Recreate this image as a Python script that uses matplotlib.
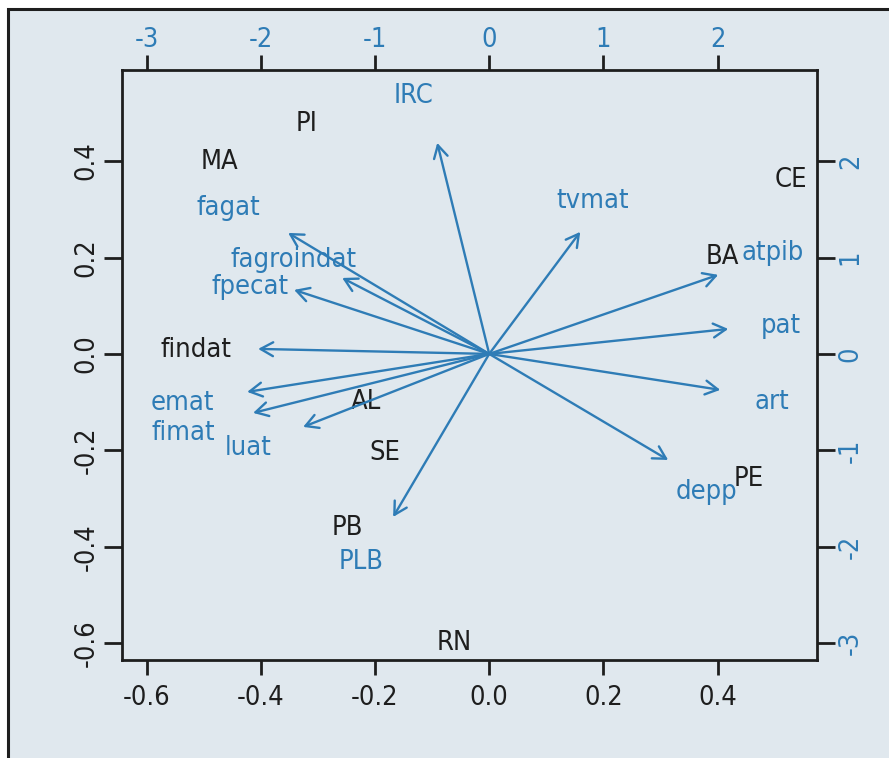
import matplotlib
matplotlib.use("Agg")
import matplotlib.pyplot as plt
from matplotlib.patches import Rectangle

plt.rcParams['font.family'] = ['DejaVu Sans']
plt.rcParams['font.stretch'] = 'condensed'

# Observation scores (first two components)
obs_names = ["PI", "MA", "CE", "BA", "AL", "SE", "PE", "PB", "RN"]
obs_x = [-0.320, -0.473, 0.529, 0.408, -0.215, -0.182, 0.454, -0.249, -0.061]
obs_y = [0.477, 0.398, 0.361, 0.201, -0.100, -0.205, -0.259, -0.361, -0.600]

# Variable loadings (arrow tips) on the secondary scale
var_names = ["IRC", "tvmat", "atpib", "pat", "art", "depp", "PLB", "luat",
             "fimat", "emat", "findat", "fpecat", "fagroindat", "fagat"]
var_x = [-0.455, 0.797, 2.005, 2.093, 2.023, 1.567, -0.841, -1.629,
         -2.067, -2.119, -2.023, -1.708, -1.287, -1.760]
var_y = [2.189, 1.266, 0.820, 0.259, -0.373, -1.100, -1.691, -0.757,
         -0.612, -0.394, 0.052, 0.664, 0.788, 1.255]

# Where each variable name is written
lab_x = [-0.666, 0.902, 2.478, 2.557, 2.478, 1.900, -1.121, -2.110,
         -2.680, -2.688, -2.566, -2.093, -1.716, -2.285]
lab_y = [2.676, 1.587, 1.048, 0.290, -0.498, -1.432, -2.158, -0.975,
         -0.820, -0.508, 0.041, 0.695, 0.975, 1.515]
black_vars = ["findat"]

bottom_ticks = [-0.6, -0.4, -0.2, 0.0, 0.2, 0.4]
left_ticks = [-0.6, -0.4, -0.2, 0.0, 0.2, 0.4]
top_ticks = [-3, -2, -1, 0, 1, 2]
right_ticks = [-3, -2, -1, 0, 1, 2]

blue = "#2e7cb6"
dark = "#1e1e1e"
bg = "#e0e8ee"
fs = 19.5

fig = plt.figure(figsize=(8.89, 7.58), dpi=100)
fig.patch.set_facecolor("white")
fig.patches.append(Rectangle((8 / 889, -0.05), 1.1, 1 - 9 / 758 + 0.05,
                             transform=fig.transFigure, facecolor=bg,
                             edgecolor=dark, linewidth=2.2, zorder=-10))

pos = [122 / 889, 1 - 660 / 758, 695 / 889, 590 / 758]
ax = fig.add_axes(pos)
ax.set_facecolor("none")
xlim = (-0.643, 0.574)
ylim = (-0.635, 0.589)
ax.set_xlim(xlim)
ax.set_ylim(ylim)

for n, x, y in zip(obs_names, obs_x, obs_y):
    ax.text(x, y, n, color=dark, fontsize=fs, ha="center", va="center")

ax.set_xticks(bottom_ticks)
ax.set_xticklabels([f"{t:.1f}" for t in bottom_ticks])
ax.set_yticks(left_ticks)
ax.set_yticklabels([f"{t:.1f}" for t in left_ticks], rotation=90, va="center")
ax.tick_params(axis="x", length=11, width=2, color=dark, labelsize=fs,
               labelcolor=dark, pad=7)
ax.tick_params(axis="y", length=13, width=2, color=dark, labelsize=fs,
               labelcolor=dark, pad=3)
for s in ax.spines.values():
    s.set_linewidth(2)
    s.set_color(dark)

# Secondary axes for the loadings
ax2 = fig.add_axes(pos, frameon=False)
ax2.set_facecolor("none")
ax2.set_xlim(xlim[0] * 5, xlim[1] * 5)
ax2.set_ylim(ylim[0] * 5, ylim[1] * 5)
ax2.xaxis.tick_top()
ax2.yaxis.tick_right()
ax2.set_xticks(top_ticks)
ax2.set_xticklabels([str(t) for t in top_ticks])
ax2.set_yticks(right_ticks)
ax2.set_yticklabels([str(t) for t in right_ticks], rotation=90, va="center")
ax2.tick_params(axis="x", length=11, width=2, color=dark, labelsize=fs,
                labelcolor=blue, pad=1)
ax2.tick_params(axis="y", length=13, width=2, color=dark, labelsize=fs,
                labelcolor=blue, pad=2)

for n, x, y, tx, ty in zip(var_names, var_x, var_y, lab_x, lab_y):
    ax2.annotate("", xy=(x, y), xytext=(0, 0),
                 arrowprops=dict(arrowstyle="->,head_length=0.9,head_width=0.5",
                                 lw=1.7, color=blue, shrinkA=0, shrinkB=0,
                                 mutation_scale=10))
    c = dark if n in black_vars else blue
    ax2.text(tx, ty, n, color=c, fontsize=fs, ha="center", va="center")

fig.savefig("out.png", dpi=100)
